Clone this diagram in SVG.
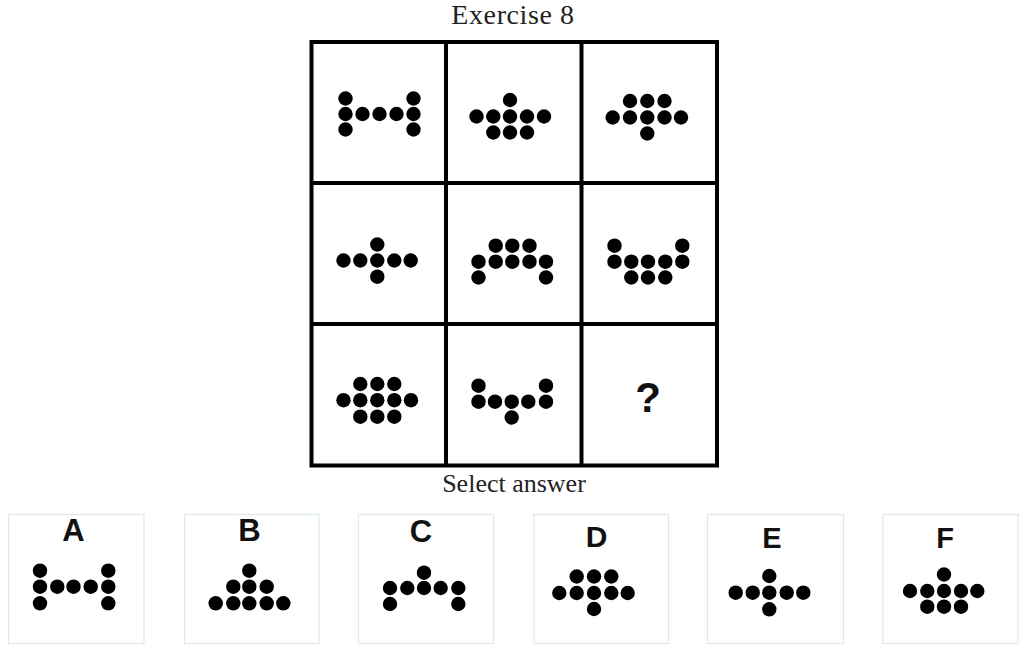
<svg xmlns="http://www.w3.org/2000/svg" width="1024" height="653" viewBox="0 0 1024 653">
<style>
.t{font-family:"Liberation Serif","Times New Roman",serif;fill:#222}
.l{font-family:"Liberation Sans",Arial,sans-serif;font-weight:bold;fill:#111;text-anchor:middle}
.g{fill:none;stroke:#000;stroke-width:4}
.b{fill:#fff;stroke:#dde9f0;stroke-width:1.2}
circle{fill:#000}
</style>
<rect width="1024" height="653" fill="#fff"/>
<text class="t" x="513" y="24" font-size="28" text-anchor="middle" letter-spacing="0.6">Exercise 8</text>
<g id="grid">
<rect class="g" x="311.5" y="42" width="405.5" height="423.5"/>
<line class="g" x1="446" y1="42" x2="446" y2="465.5"/>
<line class="g" x1="581.5" y1="42" x2="581.5" y2="465.5"/>
<line class="g" x1="311.5" y1="183" x2="717" y2="183"/>
<line class="g" x1="311.5" y1="324" x2="717" y2="324"/>
</g>
<g id="cell-1-1">
<circle cx="345.5" cy="98.5" r="7.2"/><circle cx="345.5" cy="114" r="7.2"/><circle cx="345.5" cy="129.5" r="7.2"/>
<circle cx="362.5" cy="114" r="7.2"/><circle cx="379.5" cy="114" r="7.2"/><circle cx="396.5" cy="114" r="7.2"/>
<circle cx="413.5" cy="98.5" r="7.2"/><circle cx="413.5" cy="114" r="7.2"/><circle cx="413.5" cy="129.5" r="7.2"/>
</g>
<g id="cell-1-2">
<circle cx="510" cy="100" r="7.2"/>
<circle cx="476.5" cy="116.5" r="7.2"/><circle cx="493.3" cy="116.5" r="7.2"/><circle cx="510" cy="116.5" r="7.2"/><circle cx="527" cy="116.5" r="7.2"/><circle cx="544" cy="116.5" r="7.2"/>
<circle cx="493.3" cy="132.5" r="7.2"/><circle cx="510" cy="132.5" r="7.2"/><circle cx="527" cy="132.5" r="7.2"/>
</g>
<g id="cell-1-3">
<circle cx="630" cy="101" r="7.2"/><circle cx="647.3" cy="101" r="7.2"/><circle cx="664.5" cy="101" r="7.2"/>
<circle cx="612.7" cy="117.5" r="7.2"/><circle cx="630" cy="117.5" r="7.2"/><circle cx="647.3" cy="117.5" r="7.2"/><circle cx="664.5" cy="117.5" r="7.2"/><circle cx="681" cy="117.5" r="7.2"/>
<circle cx="647.3" cy="133.5" r="7.2"/>
</g>
<g id="cell-2-1">
<circle cx="377.3" cy="244.5" r="7.2"/>
<circle cx="343.5" cy="260.5" r="7.2"/><circle cx="360.3" cy="260.5" r="7.2"/><circle cx="377.3" cy="260.5" r="7.2"/><circle cx="394.3" cy="260.5" r="7.2"/><circle cx="410.7" cy="260.5" r="7.2"/>
<circle cx="377.3" cy="276.7" r="7.2"/>
</g>
<g id="cell-2-2">
<circle cx="495.7" cy="245.7" r="7.2"/><circle cx="512.3" cy="245.7" r="7.2"/><circle cx="529.5" cy="245.7" r="7.2"/>
<circle cx="478.5" cy="261.7" r="7.2"/><circle cx="495.7" cy="261.7" r="7.2"/><circle cx="512.3" cy="261.7" r="7.2"/><circle cx="529.5" cy="261.7" r="7.2"/><circle cx="546" cy="261.7" r="7.2"/>
<circle cx="478.5" cy="277.5" r="7.2"/><circle cx="546" cy="277.5" r="7.2"/>
</g>
<g id="cell-2-3">
<circle cx="614.5" cy="245.7" r="7.2"/><circle cx="682.3" cy="245.7" r="7.2"/>
<circle cx="614.5" cy="261.7" r="7.2"/><circle cx="631.3" cy="261.7" r="7.2"/><circle cx="648" cy="261.7" r="7.2"/><circle cx="665.3" cy="261.7" r="7.2"/><circle cx="682.3" cy="261.7" r="7.2"/>
<circle cx="631.3" cy="277.5" r="7.2"/><circle cx="648" cy="277.5" r="7.2"/><circle cx="665.3" cy="277.5" r="7.2"/>
</g>
<g id="cell-3-1">
<circle cx="360.3" cy="384" r="7.2"/><circle cx="377.3" cy="384" r="7.2"/><circle cx="394.3" cy="384" r="7.2"/>
<circle cx="343.5" cy="400.2" r="7.2"/><circle cx="360.3" cy="400.2" r="7.2"/><circle cx="377.3" cy="400.2" r="7.2"/><circle cx="394.3" cy="400.2" r="7.2"/><circle cx="411" cy="400.2" r="7.2"/>
<circle cx="360.3" cy="416.7" r="7.2"/><circle cx="377.3" cy="416.7" r="7.2"/><circle cx="394.3" cy="416.7" r="7.2"/>
</g>
<g id="cell-3-2">
<circle cx="478.5" cy="385.7" r="7.2"/><circle cx="546" cy="385.7" r="7.2"/>
<circle cx="478.5" cy="401.7" r="7.2"/><circle cx="495" cy="401.7" r="7.2"/><circle cx="511.7" cy="401.7" r="7.2"/><circle cx="528.3" cy="401.7" r="7.2"/><circle cx="546" cy="401.7" r="7.2"/>
<circle cx="511.7" cy="417.5" r="7.2"/>
</g>
<g id="cell-3-3">
<text class="l" x="648" y="411.5" font-size="42">?</text>
</g>
<text class="t" x="514" y="492" font-size="26" text-anchor="middle">Select answer</text>
<g id="answer-A">
<rect class="b" x="8.5" y="514.5" width="135.5" height="129"/>
<text class="l" x="73.5" y="541" font-size="31">A</text>
<circle cx="40" cy="570.7" r="7.2"/><circle cx="40" cy="586.7" r="7.2"/><circle cx="40" cy="603.3" r="7.2"/>
<circle cx="57.3" cy="586.7" r="7.2"/><circle cx="73.5" cy="586.7" r="7.2"/><circle cx="90.7" cy="586.7" r="7.2"/>
<circle cx="108.3" cy="570.7" r="7.2"/><circle cx="108.3" cy="586.7" r="7.2"/><circle cx="108.3" cy="603.3" r="7.2"/>
</g>
<g id="answer-B">
<rect class="b" x="184.5" y="514.5" width="134.5" height="129"/>
<text class="l" x="249.5" y="541" font-size="31">B</text>
<circle cx="249.3" cy="570.7" r="7.2"/>
<circle cx="233.3" cy="586.7" r="7.2"/><circle cx="249.3" cy="586.7" r="7.2"/><circle cx="266.7" cy="586.7" r="7.2"/>
<circle cx="215.7" cy="603.3" r="7.2"/><circle cx="233.3" cy="603.3" r="7.2"/><circle cx="249.3" cy="603.3" r="7.2"/><circle cx="266.7" cy="603.3" r="7.2"/><circle cx="283.3" cy="603.3" r="7.2"/>
</g>
<g id="answer-C">
<rect class="b" x="358.5" y="514.5" width="135" height="129"/>
<text class="l" x="421" y="541.5" font-size="31">C</text>
<circle cx="424" cy="572.7" r="7.2"/>
<circle cx="390" cy="588" r="7.2"/><circle cx="407.3" cy="588" r="7.2"/><circle cx="424" cy="588" r="7.2"/><circle cx="440.7" cy="588" r="7.2"/><circle cx="458.3" cy="588" r="7.2"/>
<circle cx="390" cy="604" r="7.2"/><circle cx="458.3" cy="604" r="7.2"/>
</g>
<g id="answer-D">
<rect class="b" x="534" y="514.5" width="134.5" height="129"/>
<text class="l" x="596.5" y="546.5" font-size="30">D</text>
<circle cx="576.7" cy="576.5" r="7.2"/><circle cx="594" cy="576.5" r="7.2"/><circle cx="611.3" cy="576.5" r="7.2"/>
<circle cx="559.3" cy="593" r="7.2"/><circle cx="576.7" cy="593" r="7.2"/><circle cx="594" cy="593" r="7.2"/><circle cx="611.3" cy="593" r="7.2"/><circle cx="627.7" cy="593" r="7.2"/>
<circle cx="594" cy="609" r="7.2"/>
</g>
<g id="answer-E">
<rect class="b" x="707.5" y="514.5" width="136" height="129"/>
<text class="l" x="772" y="548" font-size="29">E</text>
<circle cx="769.3" cy="576" r="7.2"/>
<circle cx="735.7" cy="592.7" r="7.2"/><circle cx="752.7" cy="592.7" r="7.2"/><circle cx="769.3" cy="592.7" r="7.2"/><circle cx="786.7" cy="592.7" r="7.2"/><circle cx="803.3" cy="592.7" r="7.2"/>
<circle cx="769.3" cy="609.3" r="7.2"/>
</g>
<g id="answer-F">
<rect class="b" x="883" y="514.5" width="135" height="129"/>
<text class="l" x="945" y="548" font-size="29">F</text>
<circle cx="944" cy="574.5" r="7.2"/>
<circle cx="910" cy="591" r="7.2"/><circle cx="927.3" cy="591" r="7.2"/><circle cx="944" cy="591" r="7.2"/><circle cx="961" cy="591" r="7.2"/><circle cx="977.3" cy="591" r="7.2"/>
<circle cx="927.3" cy="606.7" r="7.2"/><circle cx="944" cy="606.7" r="7.2"/><circle cx="961" cy="606.7" r="7.2"/>
</g>
</svg>
